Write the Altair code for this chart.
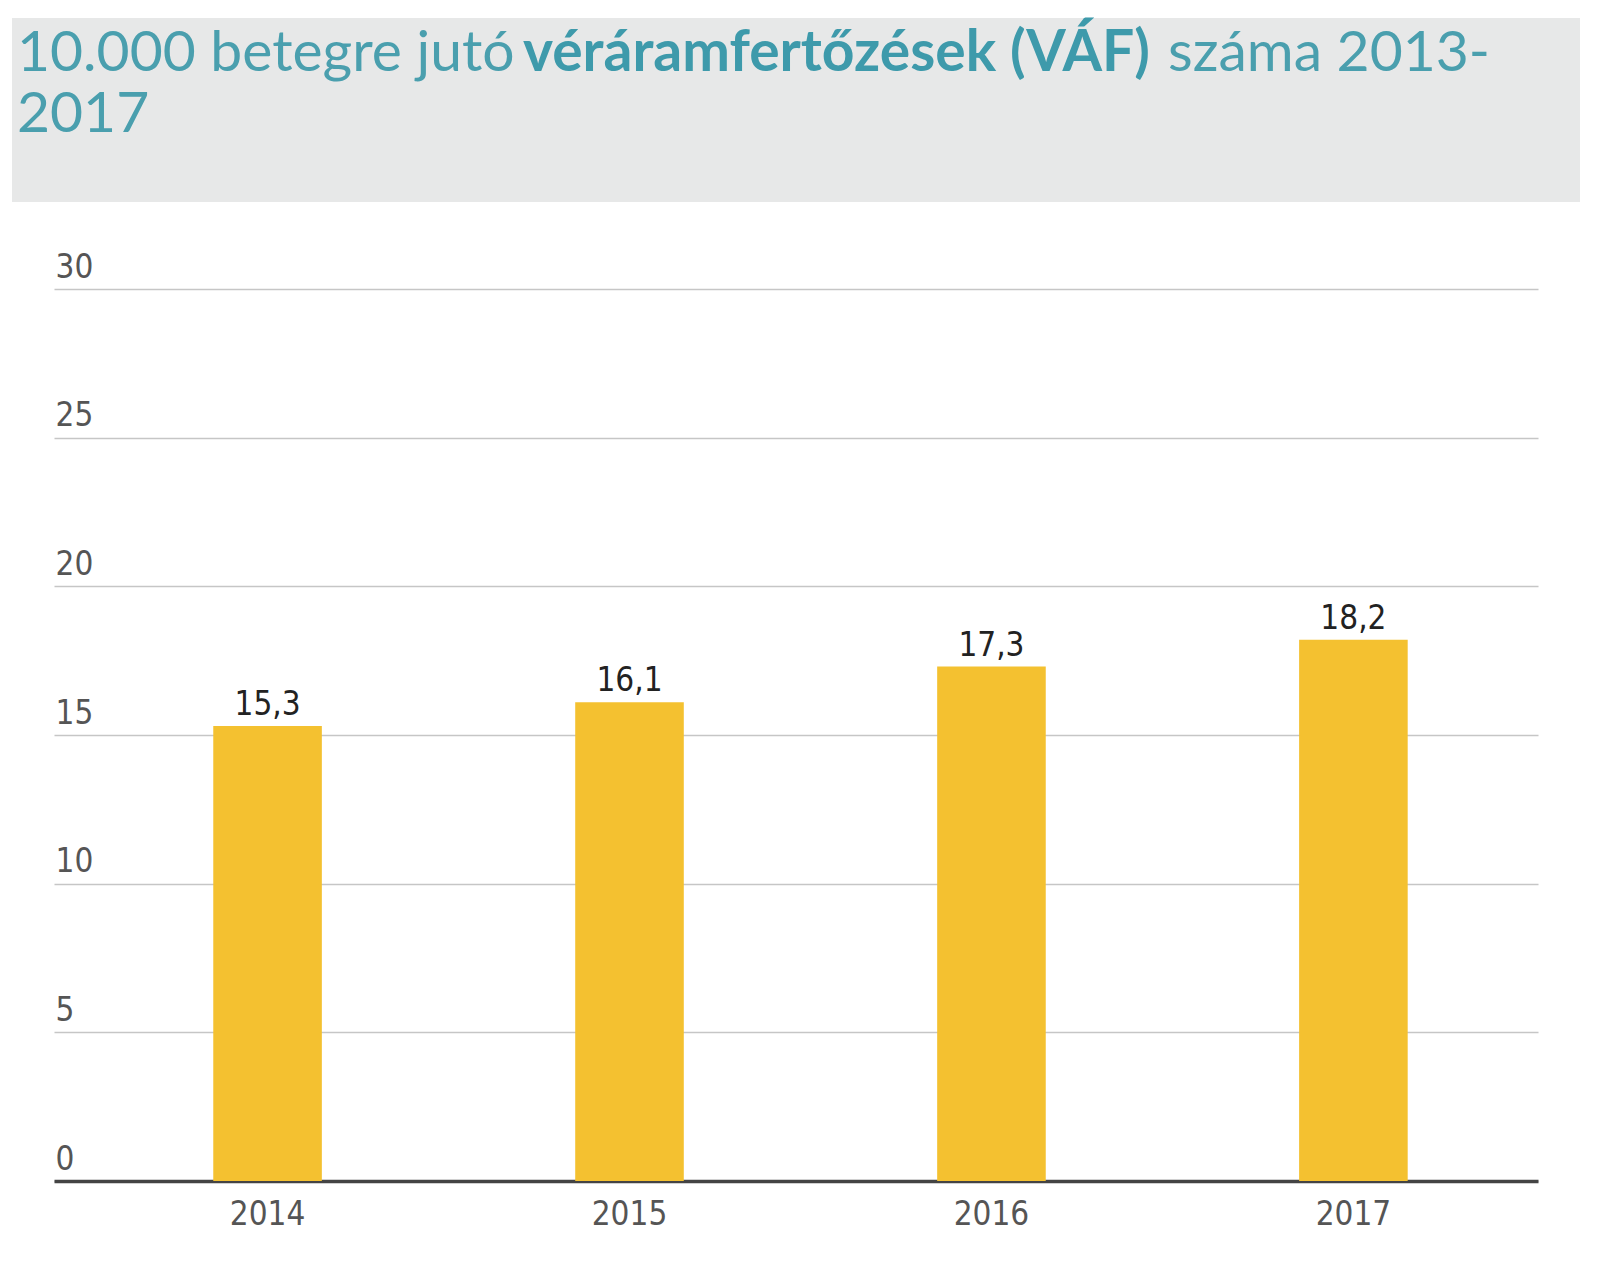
import altair as alt
import pandas as pd

# ---- data ----
years = ["2014", "2015", "2016", "2017"]
values = [15.3, 16.1, 17.3, 18.2]
value_labels = ["15,3", "16,1", "17,3", "18,2"]
y_ticks = [0, 5, 10, 15, 20, 25, 30]

title_part1 = "10.000 betegre jutó"
title_bold = "véráramfertőzések (VÁF)"
title_part2 = "száma 2013-"
title_line2 = "2017"

df = pd.DataFrame({"year": years, "value": values, "label": value_labels})
one = pd.DataFrame({"k": [0]})

W, H = 1484, 892
NARROW = "Liberation Sans Narrow, DejaVu Sans Condensed, Roboto Condensed, Arial Narrow, sans-serif"
TITLE_FONT = "Lato"
TITLE_SIZE = 57
TEAL = "#4a9fae"
TEAL_BOLD = "#3e9aab"

x_enc = alt.X(
    "year:N",
    sort=years,
    scale=alt.Scale(paddingInner=0.7, paddingOuter=0.4, align=0.55),
    axis=alt.Axis(
        title=None, labelAngle=0, ticks=False, domain=True,
        domainColor="#444444", domainWidth=3.5,
        labelFont=NARROW, labelFontSize=33, labelColor="#555555",
        labelPadding=17, labelBaseline="top", grid=False,
    ),
)
y_enc = alt.Y(
    "value:Q",
    scale=alt.Scale(domain=[0, 30], nice=False),
    axis=alt.Axis(
        title=None, values=y_ticks, ticks=False, tickSize=0, domain=False,
        grid=True, gridColor="#c6c6c6", gridWidth=1.5,
        labelAlign="left", labelBaseline="alphabetic", labelPadding=-1,
        labelOffset=-12, labelFont=NARROW, labelFontSize=33,
        labelColor="#555555", labelOverlap=False,
    ),
)

bars = alt.Chart(df).mark_bar(color="#F4C130").encode(x=x_enc, y=y_enc)

texts = alt.Chart(df).mark_text(
    baseline="alphabetic", dy=-11, font=NARROW, fontSize=33, color="#222222"
).encode(x=alt.X("year:N", sort=years), y="value:Q", text="label:N")

header_bg = alt.Chart(one).mark_rect(color="#e7e8e8").encode(
    x=alt.value(-42), x2=alt.value(1526), y=alt.value(-271), y2=alt.value(-87)
)

def title_text(txt, xpos, ypos, bold=False):
    return alt.Chart(pd.DataFrame({"t": [txt]})).mark_text(
        align="left", baseline="alphabetic", font=TITLE_FONT, fontSize=TITLE_SIZE,
        fontWeight="bold" if bold else "normal",
        color=TEAL_BOLD if bold else TEAL,
    ).encode(x=alt.value(xpos), y=alt.value(ypos), text="t:N")

t1 = title_text(title_part1, -37, -218)
t2 = title_text(title_bold, 469, -218, bold=True)
t3 = title_text(title_part2, 1114, -218)
t4 = title_text(title_line2, -37, -157)

chart = alt.layer(header_bg, t1, t2, t3, t4, bars, texts).properties(
    width=W,
    height=H,
    autosize=alt.AutoSizeParams(type="none"),
    padding={"left": 46, "top": 281, "right": 54, "bottom": 70},
    background="white",
).configure_view(stroke=None)

chart.save("out.html", embed_options={"renderer": "svg", "actions": False})
